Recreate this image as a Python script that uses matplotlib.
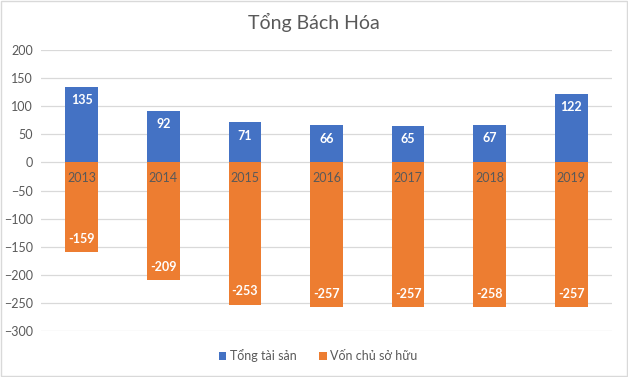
import matplotlib
matplotlib.use('Agg')
import matplotlib.pyplot as plt
from matplotlib.patches import Rectangle

# data
years = ['2013', '2014', '2015', '2016', '2017', '2018', '2019']
tong_tai_san = [135, 92, 71, 66, 65, 67, 122]
von_chu_so_huu = [-159, -209, -253, -257, -257, -258, -257]
y_ticks = [200, 150, 100, 50, 0, -50, -100, -150, -200, -250, -300]

plt.rcParams['font.family'] = ['Lato', 'Noto Sans', 'DejaVu Sans']

blue = '#4472C4'
orange = '#ED7D31'
grey_text = '#595959'

fig = plt.figure(figsize=(6.28, 3.77), dpi=100)
ax = fig.add_axes([41 / 628, 1 - 331 / 377, 571 / 628, 281 / 377])

x = range(len(years))
ax.bar(x, tong_tai_san, width=0.4, color=blue, label='Tổng tài sản', zorder=3)
ax.bar(x, von_chu_so_huu, width=0.4, color=orange, label='Vốn chủ sở hữu', zorder=3)

# data labels inside the bar ends
for i in x:
    ax.annotate(str(tong_tai_san[i]), xy=(i, tong_tai_san[i]), xytext=(0, -9.5),
                textcoords='offset points', ha='center', va='center',
                color='white', fontsize=9, fontweight='bold', zorder=4)
    ax.annotate(str(von_chu_so_huu[i]), xy=(i, von_chu_so_huu[i]), xytext=(0, 9.5),
                textcoords='offset points', ha='center', va='center',
                color='white', fontsize=9, fontweight='bold', zorder=4)
    # category labels sit next to the zero line
    ax.annotate(years[i], xy=(i, 0), xytext=(0, -11),
                textcoords='offset points', ha='center', va='center',
                color=grey_text, fontsize=9, zorder=4)

ax.set_xlim(-0.5, len(years) - 0.5)
ax.set_ylim(-300, 200)
ax.set_yticks(y_ticks)
ax.set_xticks([])
ax.tick_params(axis='y', length=0, labelsize=9, labelcolor=grey_text, pad=6)
ax.grid(axis='y', color='#D9D9D9', linewidth=0.9, zorder=0)
for s in ax.spines.values():
    s.set_visible(False)

fig.text(0.5, 1 - 22 / 377, 'Tổng Bách Hóa', ha='center', va='center',
         fontsize=14, color=grey_text)

fig.legend(loc='center', bbox_to_anchor=(318 / 628, 1 - 356 / 377), ncol=2,
           frameon=False, fontsize=9, labelcolor=grey_text, handlelength=0.6,
           handleheight=0.6, handletextpad=0.3, columnspacing=1.8)

# thin border round the whole chart
fig.patches.append(Rectangle((0.001, 0.002), 0.997, 0.995, transform=fig.transFigure,
                             fill=False, edgecolor='#D9D9D9', linewidth=1))

plt.savefig('out.png', dpi=100)
